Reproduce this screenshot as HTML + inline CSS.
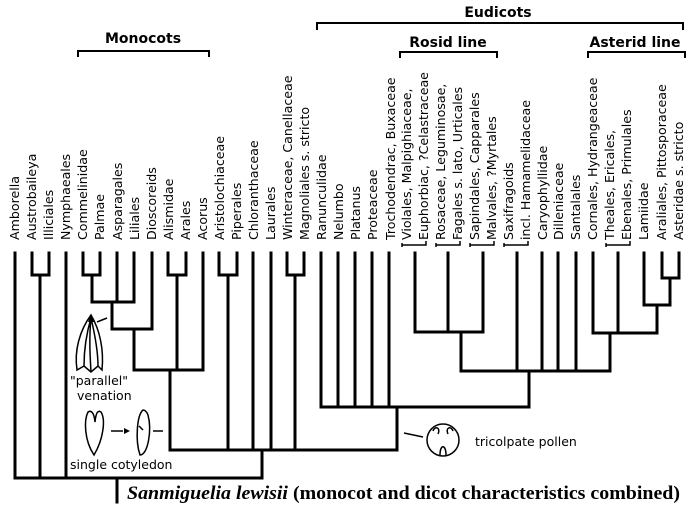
<!DOCTYPE html>
<html><head><meta charset="utf-8"><style>
html,body{margin:0;padding:0;background:#fff;}
svg{display:block;}
text{font-family:"DejaVu Sans","Liberation Sans",sans-serif;fill:#000;}
text.serif{font-family:"Liberation Serif",serif;}
.l{font-size:12.6px;}
</style></head><body>
<svg width="695" height="508" viewBox="0 0 695 508" xmlns="http://www.w3.org/2000/svg">
<g fill="none" stroke="#000" stroke-width="3" stroke-linecap="square">
<path d="M15 253V478H262V450"/>
<path d="M32 253V275H49V253M40 275V478"/>
<path d="M66 253V478"/>
<path d="M83 253V275H100V253M92 275V302H134V253M117 253V302"/>
<path d="M112 302V329H152V253"/>
<path d="M134 329V370H203V253"/>
<path d="M168 253V275H186V253M177 275V370"/>
<path d="M170 370V450H397"/>
<path d="M219 253V275H237V253M228 275V450"/>
<path d="M253 253V450M271 253V450"/>
<path d="M287 253V275H304V253M295 275V450"/>
<path d="M397 450V407"/>
<path d="M321 253V407H529V371"/>
<path d="M338 253V407M355 253V407M372 253V407M389 253V407"/>
<path d="M415 253V332H483V253M448 253V332"/>
<path d="M461 332V371H610V333"/>
<path d="M517 253V371M542 253V371M558 253V371M576 253V371"/>
<path d="M593 253V333H657V305M618 253V333"/>
<path d="M644 253V305H670V278"/>
<path d="M662 253V278H679V253"/>
<path d="M117 478V502"/>
</g>
<g fill="none" stroke="#000" stroke-width="2">
<path d="M78 57V51H209V57"/>
<path d="M317 30V23H683V30"/>
<path d="M400 58V52H497V58"/>
<path d="M588 58V52H685V58"/>
<path d="M402 247V243M402 245H426V241M436 247V243M436 245H460V241M470 247V243M470 245H494V241M504 247V243M504 245H528V241M606 247V243M606 245H630V241" stroke-width="1.5"/>
</g>
<g font-weight="bold" font-size="14">
<text x="143" y="43" text-anchor="middle">Monocots</text>
<text x="498" y="17" text-anchor="middle">Eudicots</text>
<text x="448" y="47" text-anchor="middle">Rosid line</text>
<text x="635" y="47" text-anchor="middle">Asterid line</text>
</g>
<g class="l">
<text transform="translate(19,240) rotate(-90)">Amborella</text>
<text transform="translate(36,240) rotate(-90)">Austrobaileya</text>
<text transform="translate(53,240) rotate(-90)">Illiciales</text>
<text transform="translate(70,240) rotate(-90)">Nymphaeales</text>
<text transform="translate(87,240) rotate(-90)">Commelinidae</text>
<text transform="translate(104,240) rotate(-90)">Palmae</text>
<text transform="translate(122,240) rotate(-90)">Asparagales</text>
<text transform="translate(139,240) rotate(-90)">Liliales</text>
<text transform="translate(156,240) rotate(-90)">Dioscoreids</text>
<text transform="translate(173,240) rotate(-90)">Alismidae</text>
<text transform="translate(190,240) rotate(-90)">Arales</text>
<text transform="translate(207,240) rotate(-90)">Acorus</text>
<text transform="translate(224,240) rotate(-90)">Aristolochiaceae</text>
<text transform="translate(241,240) rotate(-90)">Piperales</text>
<text transform="translate(258,240) rotate(-90)">Chloranthaceae</text>
<text transform="translate(275,240) rotate(-90)">Laurales</text>
<text transform="translate(292,240) rotate(-90)">Winteraceae, Canellaceae</text>
<text transform="translate(309,240) rotate(-90)">Magnoliales s. stricto</text>
<text transform="translate(326,240) rotate(-90)">Ranunculidae</text>
<text transform="translate(343,240) rotate(-90)">Nelumbo</text>
<text transform="translate(360,240) rotate(-90)">Platanus</text>
<text transform="translate(377,240) rotate(-90)">Proteaceae</text>
<text transform="translate(395,240) rotate(-90)">Trochodendrac, Buxaceae</text>
<text transform="translate(411,240) rotate(-90)">Violales, Malpighiaceae,</text>
<text transform="translate(428,240) rotate(-90)">Euphorbiac, ?Celastraceae</text>
<text transform="translate(445,240) rotate(-90)">Rosaceae, Leguminosae,</text>
<text transform="translate(462,240) rotate(-90)">Fagales s. lato, Urticales</text>
<text transform="translate(479,240) rotate(-90)">Sapindales, Capparales</text>
<text transform="translate(496,240) rotate(-90)">Malvales, ?Myrtales</text>
<text transform="translate(513,240) rotate(-90)">Saxifragoids</text>
<text transform="translate(530,240) rotate(-90)">incl. Hamamelidaceae</text>
<text transform="translate(547,240) rotate(-90)">Caryophyllidae</text>
<text transform="translate(563,240) rotate(-90)">Dilleniaceae</text>
<text transform="translate(580,240) rotate(-90)">Santalales</text>
<text transform="translate(597,240) rotate(-90)">Cornales, Hydrangeaceae</text>
<text transform="translate(614,240) rotate(-90)">Theales, Ericales,</text>
<text transform="translate(631,240) rotate(-90)">Ebenales, Primulales</text>
<text transform="translate(648,240) rotate(-90)">Lamiidae</text>
<text transform="translate(666,240) rotate(-90)">Araliales, Pittosporaceae</text>
<text transform="translate(683,240) rotate(-90)">Asteridae s. stricto</text>
</g>
<g fill="none" stroke="#000" stroke-width="1.5">
<path d="M91 315C80 330 74 350 77 370L84 366L91 372L98 366L102 370C104 350 100 330 91 315Z"/>
<path d="M91 318C86 335 84 352 84 366M91 318C89 338 90 355 91 372M91 318C95 335 98 352 98 366"/>
<path d="M97 322L107 318"/>
<path d="M88 412C84 420 84 440 94 455C103 440 106 420 101 412C98 410 96 412 95 422C94 412 91 410 88 412Z"/>
<path d="M111 431H123"/>
<path d="M143 410C137 415 135 440 140 455C148 455 152 430 148 415C146 410 144 410 143 410ZM139 426L143 430"/>
<path d="M153 431H163"/>
<path d="M404 433L423 437"/>
<circle cx="443" cy="440" r="16"/>
<path d="M433 431C435 425 441 428 438 434M453 431C451 425 445 428 448 434M440 455C440 444 446 444 446 455"/>
</g>
<polygon points="130,431 124,428 124,434" fill="#000"/>
<polygon points="91,314 88,322 94,322" fill="#000"/>
<g font-size="12.5">
<text x="70" y="385">"parallel"</text>
<text x="77" y="400">venation</text>
<text x="70" y="469">single cotyledon</text>
<text x="475" y="446">tricolpate pollen</text>
</g>
<text class="serif" x="127" y="499" font-weight="bold" font-size="19" textLength="553" lengthAdjust="spacingAndGlyphs"><tspan font-style="italic">Sanmiguelia lewisii</tspan> (monocot and dicot characteristics combined)</text>
</svg>
</body></html>
